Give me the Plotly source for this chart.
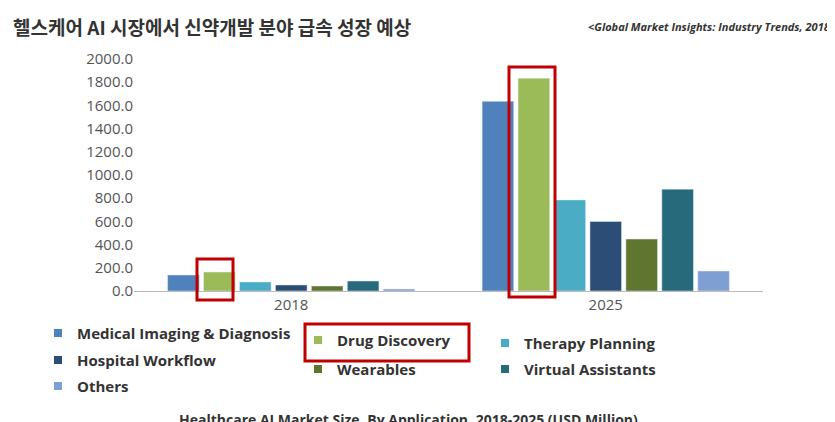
import plotly.graph_objects as go

years = ["2018", "2025"]
series = ["Medical Imaging & Diagnosis", "Drug Discovery", "Therapy Planning",
          "Hospital Workflow", "Wearables", "Virtual Assistants", "Others"]
values = {
    "Medical Imaging & Diagnosis": [138, 1635],
    "Drug Discovery": [163, 1835],
    "Therapy Planning": [78, 785],
    "Hospital Workflow": [52, 600],
    "Wearables": [43, 448],
    "Virtual Assistants": [86, 878],
    "Others": [17, 172],
}
colors = ["#4F81BD", "#9BBB59", "#4BACC6", "#2C4D75", "#5F7530", "#276A7C", "#7F9FD2"]
# legend grid position (pixel) of each series: column x, row y
legend_pos = [(50, 325), (310, 332), (497, 335), (50, 352), (310, 361), (497, 361), (50, 378)]

L, T, W, H = 126, 51, 629, 232
px_x = lambda v: (v - L) / W
px_y = lambda v: (T + H - v) / H

fig = go.Figure()
for name, c in zip(series, colors):
    fig.add_bar(x=years, y=values[name], name=name, marker_color=c, showlegend=False)

fig.update_layout(
    width=835, height=422, barmode="group", bargap=0.2, bargroupgap=0.12,
    plot_bgcolor="white", paper_bgcolor="white",
    margin=dict(l=L, r=835 - L - W, t=T, b=422 - T - H, autoexpand=False),
    font=dict(family="Open Sans, Liberation Sans, sans-serif", color="#333"),
)
fig.update_yaxes(range=[0, 2000], dtick=200, tickformat=".1f", showgrid=False,
                 tickfont=dict(size=15, color="#555"), zeroline=False)
fig.update_xaxes(showline=True, linecolor="#bbb", tickfont=dict(size=15, color="#555"))

for (lx, ly), name, c in zip(legend_pos, series, colors):
    fig.add_shape(type="rect", xref="paper", yref="paper", fillcolor=c, line_width=0,
                  x0=px_x(lx - 4), x1=px_x(lx + 4), y0=px_y(ly + 4), y1=px_y(ly - 4))
    fig.add_annotation(text=f"<b>{name}</b>", xref="paper", yref="paper",
                       x=px_x(lx + 17), y=px_y(ly), xanchor="left", yanchor="middle",
                       showarrow=False, font=dict(size=15, color="#333"))

fig.add_annotation(text="<b>헬스케어 AI 시장에서 신약개발 분야 급속 성장 예상</b>", xref="paper", yref="paper",
                   x=px_x(3), y=px_y(18), xanchor="left", yanchor="middle", showarrow=False,
                   font=dict(family="Noto Sans CJK KR", size=19, color="#333"))
fig.add_annotation(text="<b><i>&lt;Global Market Insights: Industry Trends, 2018&gt;</i></b>",
                   xref="paper", yref="paper", x=px_x(830), y=px_y(18), xanchor="right", yanchor="middle",
                   showarrow=False, font=dict(size=11, color="#333"))
fig.add_annotation(text="<b>Healthcare AI Market Size, By Application, 2018-2025 (USD Million)</b>",
                   xref="paper", yref="paper", x=px_x(400), y=px_y(411), xanchor="center", yanchor="middle",
                   showarrow=False, font=dict(size=14, color="#333"))

red = dict(color="#C00000", width=3)
for x0, y0, x1, y1 in [(189, 251, 225, 292), (501, 59, 547, 289), (297, 316, 461, 353)]:
    fig.add_shape(type="rect", xref="paper", yref="paper", line=red,
                  x0=px_x(x0), x1=px_x(x1), y0=px_y(y1), y1=px_y(y0))

fig.write_html("out.html")
